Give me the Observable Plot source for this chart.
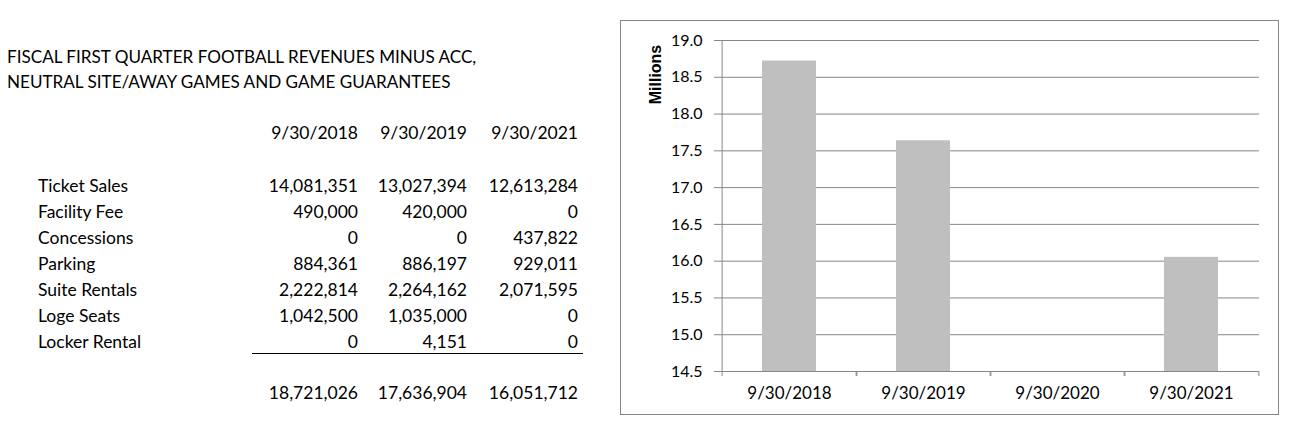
<!DOCTYPE html>
<html>
<head>
<meta charset="utf-8">
<script src="https://cdn.jsdelivr.net/npm/d3@7"></script>
<script src="https://cdn.jsdelivr.net/npm/@observablehq/plot@0.6"></script>
<style>
  html, body { margin: 0; padding: 0; background: #fff; }
  body { width: 1301px; height: 437px; position: relative; overflow: hidden; font-family: Lato, "Open Sans", sans-serif; color: #000; }
  .t { position: absolute; font-size: 17.5px; line-height: 20px; white-space: nowrap; }
  .title { font-size: 17.1px; }
  .r { text-align: right; }
  #box { position: absolute; left: 620px; top: 20px; width: 657px; height: 393px; border: 1px solid #868686; background: #fff; }
  #box svg { position: absolute; left: 0; top: 0; }
</style>
</head>
<body>
<div id="table"></div>
<div id="box"></div>
<script>
// ---- data ----
const titleLines = ["FISCAL FIRST QUARTER FOOTBALL REVENUES MINUS ACC,", "NEUTRAL SITE/AWAY GAMES AND GAME GUARANTEES"];
const tableYears = ["9/30/2018", "9/30/2019", "9/30/2021"];
const rowLabels = ["Ticket Sales", "Facility Fee", "Concessions", "Parking", "Suite Rentals", "Loge Seats", "Locker Rental"];
const values2018 = [14081351, 490000, 0, 884361, 2222814, 1042500, 0];
const values2019 = [13027394, 420000, 0, 886197, 2264162, 1035000, 4151];
const values2021 = [12613284, 0, 437822, 929011, 2071595, 0, 0];
const totals = [18721026, 17636904, 16051712];

const categories = ["9/30/2018", "9/30/2019", "9/30/2020", "9/30/2021"];
const chartMillions = [18.721026, 17.636904, null, 16.051712];
const yTicks = [14.5, 15.0, 15.5, 16.0, 16.5, 17.0, 17.5, 18.0, 18.5, 19.0];
const yLabel = "Millions";

// ---- table ----
const table = document.getElementById("table");
const fmt = d3.format(",");
function addText(txt, left, centerY, right, extra) {
  const d = document.createElement("div");
  d.className = "t" + (right ? " r" : "") + (extra ? " " + extra : "");
  d.textContent = txt;
  d.style.top = (centerY - 10) + "px";
  if (right) { d.style.right = (1301 - left) + "px"; } else { d.style.left = left + "px"; }
  table.appendChild(d);
}
const colRight = [358, 467, 578];
titleLines.forEach((s, i) => addText(s, 7, 57 + i * 25, false, "title"));
tableYears.forEach((y, j) => addText(y, colRight[j], 133, true));
const cols = [values2018, values2019, values2021];
rowLabels.forEach((lab, i) => {
  const cy = 186 + i * 26;
  addText(lab, 38, cy, false);
  cols.forEach((col, j) => addText(fmt(col[i]), colRight[j], cy, true));
});
totals.forEach((v, j) => addText(fmt(v), colRight[j], 393, true));
const line = document.createElement("div");
line.style.cssText = "position:absolute;left:252px;top:353px;width:331px;height:0;border-top:1px solid #000;";
table.appendChild(line);

// ---- chart ----
const W = 657, H = 393, mL = 99, mR = 19, mT = 19, mB = 43;
const step = (W - mL - mR) / categories.length;
const GRID = "#868686";
const chartData = categories.map((c, i) => ({date: c, value: chartMillions[i]})).filter(d => d.value != null);

const chart = Plot.plot({
  width: W, height: H,
  marginLeft: mL, marginRight: mR, marginTop: mT, marginBottom: mB,
  style: {fontFamily: "Lato, sans-serif", fontSize: "16px", color: "#000", background: "transparent", overflow: "visible"},
  x: {domain: categories, paddingInner: 0.6, paddingOuter: 0.3, label: null, axis: null},
  y: {domain: [yTicks[0], yTicks[yTicks.length - 1]], label: null, axis: null},
  marks: [
    Plot.gridY(yTicks, {stroke: GRID, strokeOpacity: 1}),
    Plot.barY(chartData, {x: "date", y1: yTicks[0], y2: "value", fill: "#BFBFBF"}),
    Plot.ruleX([categories[0]], {x: d => d, dx: -step / 2, stroke: GRID}),
    Plot.axisY({ticks: yTicks, tickSize: 6, tickPadding: 12, tickFormat: d3.format(".1f"), stroke: GRID, label: null}),
    Plot.axisX({tickSize: 5, dx: -step / 2, tickFormat: () => "", stroke: GRID, label: null}),
    Plot.axisX({tickSize: 5, dx: step / 2, tickFormat: () => "", stroke: GRID, label: null}),
    Plot.axisX({tickSize: 0, tickPadding: 15, fontSize: 17, label: null}),
    Plot.text([yLabel], {frameAnchor: "top-left", text: d => d, rotate: -90, textAnchor: "middle", lineAnchor: "middle", dx: -65, dy: 34, fontWeight: "bold", fontSize: 16, fontFamily: "Liberation Sans, Arial, sans-serif", fill: "#000"})
  ]
});
document.getElementById("box").appendChild(chart);
</script>
</body>
</html>
